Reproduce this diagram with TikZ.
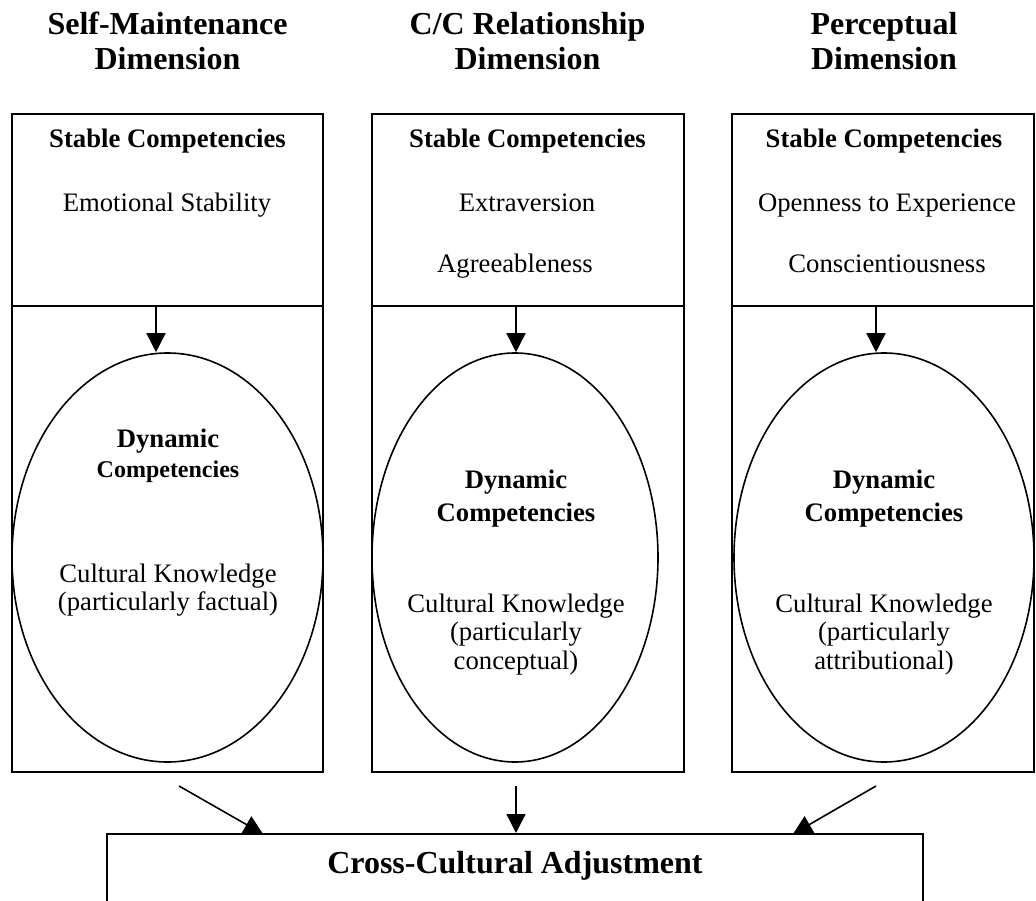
\documentclass[tikz,border=0pt]{standalone}
\usepackage{fontspec}
\setmainfont{Liberation Serif}
\usetikzlibrary{arrows.meta,shapes.geometric,calc}
\tikzset{
  colbox/.style={draw, line width=2pt, rectangle, inner sep=0pt},
  oval/.style={draw, line width=1.6pt, ellipse, inner sep=0pt},
  arr/.style={line width=1.6pt, -{Triangle[length=19pt,width=19pt]}},
  hdr/.style={font=\fontsize{32}{35}\selectfont\bfseries, align=center, anchor=base},
  sc/.style={font=\fontsize{26.7}{30}\selectfont\bfseries, anchor=base},
  tx/.style={font=\fontsize{26.7}{30}\selectfont, anchor=base},
  dynb/.style={font=\fontsize{26.7}{30}\selectfont\bfseries, anchor=base},
  dyns/.style={font=\fontsize{24}{28}\selectfont\bfseries, anchor=base},
}
\begin{document}
\begin{tikzpicture}[x=1pt,y=-1pt]
\useasboundingbox (0,0) rectangle (1036,901);
\clip (0,0) rectangle (1036,901);
\fill[white] (0,0) rectangle (1036,901);
% headers
\node[hdr] (h1a) at (167.5,35) {Self-Maintenance};
\node[hdr] (h1b) at (167.5,70) {Dimension};
\node[hdr] (h2a) at (527.5,35) {C/C Relationship};
\node[hdr] (h2b) at (527.5,70) {Dimension};
\node[hdr] (h3a) at (884,35) {Perceptual};
\node[hdr] (h3b) at (884,70) {Dimension};
% column boxes
\node[colbox, minimum width=311pt, minimum height=658pt] (boxL) at (167.5,443) {};
\node[colbox, minimum width=312pt, minimum height=658pt] (boxM) at (528,443) {};
\node[colbox, minimum width=302pt, minimum height=658pt] (boxR) at (883,443) {};
% dividers
\draw[line width=2pt] (boxL.west |- 0,306) -- (boxL.east |- 0,306);
\draw[line width=2pt] (boxM.west |- 0,306) -- (boxM.east |- 0,306);
\draw[line width=2pt] (boxR.west |- 0,306) -- (boxR.east |- 0,306);
% stable texts
\node[sc] (sL) at (167.5,148) {Stable Competencies};
\node[sc] (sM) at (527.5,148) {Stable Competencies};
\node[sc] (sR) at (884,148) {Stable Competencies};
\node[tx] (tL1) at (167,212) {Emotional Stability};
\node[tx] (tM1) at (527,212) {Extraversion};
\node[tx] (tM2) at (515,273) {Agreeableness};
\node[tx] (tR1) at (887,212) {Openness to Experience};
\node[tx] (tR2) at (887,273) {Conscientiousness};
% ellipses
\node[oval, minimum width=311pt, minimum height=409pt] (eL) at (167.5,557.5) {};
\node[oval, minimum width=286pt, minimum height=409pt] (eM) at (515,557.5) {};
\node[oval, minimum width=300pt, minimum height=409pt] (eR) at (884,557.5) {};
% dynamic texts
\node[dynb] (dL1) at (168,447) {Dynamic};
\node[dyns] (dL2) at (168,477) {Competencies};
\node[tx] (cL1) at (168,582) {Cultural Knowledge};
\node[tx] (cL2) at (168,610) {(particularly factual)};
\node[dynb] (dM1) at (516,488) {Dynamic};
\node[dynb] (dM2) at (516,521) {Competencies};
\node[tx] (cM1) at (516,612) {Cultural Knowledge};
\node[tx] (cM2) at (516,640) {(particularly};
\node[tx] (cM3) at (516,669) {conceptual)};
\node[dynb] (dR1) at (884,488) {Dynamic};
\node[dynb] (dR2) at (884,521) {Competencies};
\node[tx] (cR1) at (884,612) {Cultural Knowledge};
\node[tx] (cR2) at (884,640) {(particularly};
\node[tx] (cR3) at (884,669) {attributional)};
% arrows from stable to dynamic
\coordinate (aL) at (156,306);
\coordinate (aM) at (516,306);
\coordinate (aR) at (876,306);
\draw[arr] (aL) -- (aL |- eL.north);
\draw[arr] (aM) -- (aM |- eM.north);
\draw[arr] (aR) -- (aR |- eR.north);
% bottom box
\node[colbox, minimum width=816pt, minimum height=140pt] (adj) at (515,904) {};
\node[hdr] (adjt) at (515,873) {Cross-Cultural Adjustment};
% arrows to bottom
\coordinate (bL) at (179,786);
\coordinate (bM) at (516,786);
\coordinate (bR) at (876,786);
\coordinate (eLb) at (263,834);
\coordinate (eRb) at (793,834);
\draw[arr] (bL) -- (eLb);
\draw[arr] (bM) -- (bM |- adj.north);
\draw[arr] (bR) -- (eRb);
\end{tikzpicture}
\end{document}
